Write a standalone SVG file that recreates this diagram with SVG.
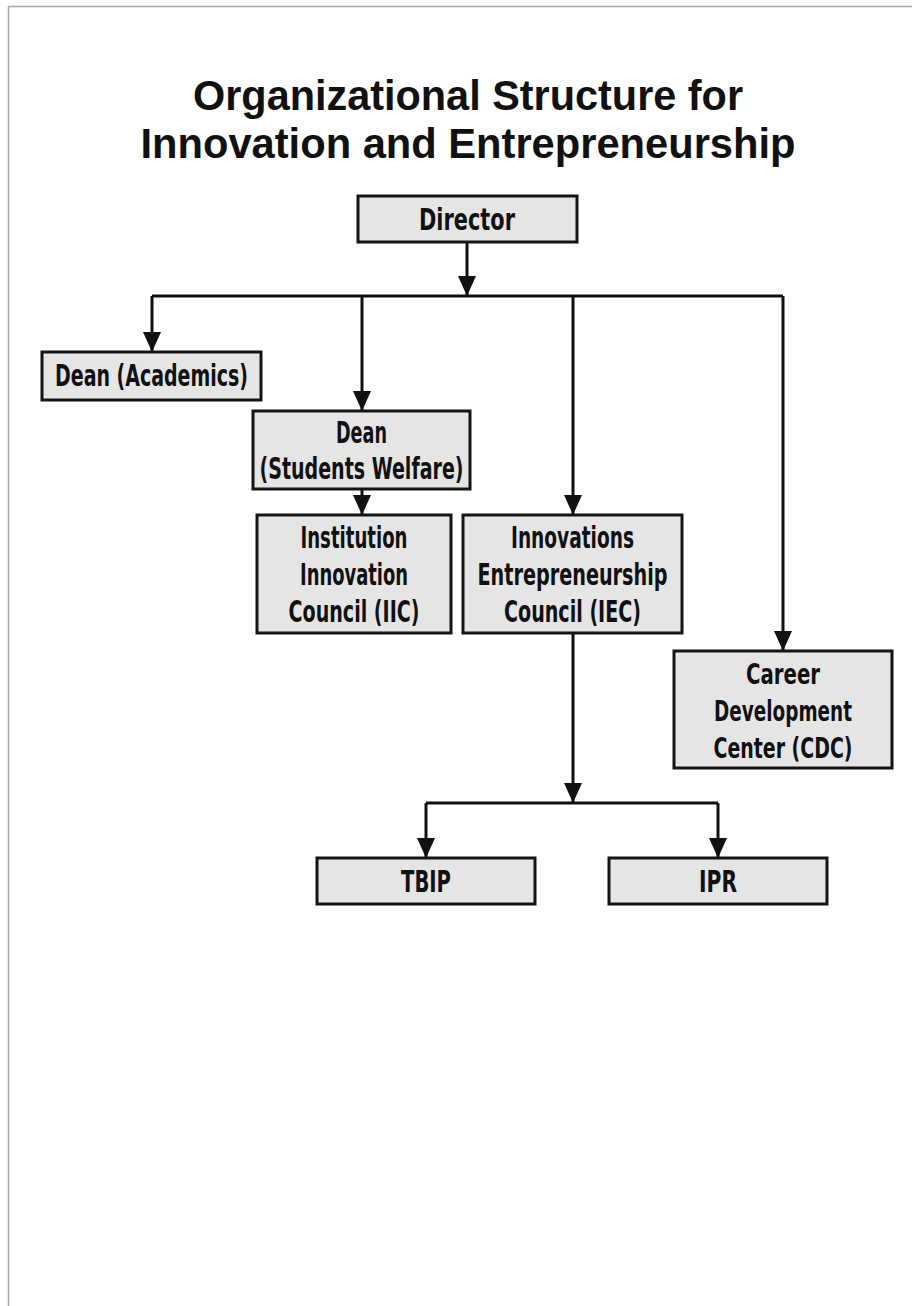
<svg xmlns="http://www.w3.org/2000/svg" width="912" height="1306" viewBox="0 0 912 1306">
<style>
  .box { fill: #e5e5e5; stroke: #141414; stroke-width: 3; }
  .lbl { font-family: "Liberation Sans Narrow", "DejaVu Sans Condensed", "Roboto Condensed", sans-serif; font-weight: bold; font-size: 30px; fill: #111; text-anchor: middle; }
  .sm { font-size: 28px; }
  .title { font-family: "Liberation Sans", Arial, sans-serif; font-weight: bold; font-size: 42px; fill: #111; text-anchor: middle; }
  .conn { stroke: #111; stroke-width: 3; fill: none; }
</style>
<defs>
  <marker id="arr" markerUnits="userSpaceOnUse" markerWidth="20" markerHeight="20" viewBox="0 0 20 20" refX="20" refY="10" orient="auto">
    <path d="M0,1 L20,10 L0,19 Z" fill="#111"/>
  </marker>
</defs>
<rect x="0" y="0" width="912" height="1306" fill="#fff"/>
<path d="M8.5,1306 V6.5 H912" stroke="#a8a8a8" stroke-width="1.5" fill="none"/>

<g id="title">
  <text class="title" x="468" y="110" textLength="550" lengthAdjust="spacingAndGlyphs">Organizational Structure for</text>
  <text class="title" x="468" y="158" textLength="655" lengthAdjust="spacingAndGlyphs">Innovation and Entrepreneurship</text>
</g>

<g id="connectors">
  <path class="conn" d="M467,242 V296" marker-end="url(#arr)"/>
  <path class="conn" d="M152,296 H783"/>
  <path class="conn" d="M152,296 V352" marker-end="url(#arr)"/>
  <path class="conn" d="M362,296 V411" marker-end="url(#arr)"/>
  <path class="conn" d="M573,296 V515" marker-end="url(#arr)"/>
  <path class="conn" d="M783,296 V651" marker-end="url(#arr)"/>
  <path class="conn" d="M362,489 V515" marker-end="url(#arr)"/>
  <path class="conn" d="M573,633 V803" marker-end="url(#arr)"/>
  <path class="conn" d="M426,803 H718"/>
  <path class="conn" d="M426,803 V858" marker-end="url(#arr)"/>
  <path class="conn" d="M718,803 V858" marker-end="url(#arr)"/>
</g>

<g id="director">
  <rect class="box" x="358" y="196" width="219" height="46"/>
  <text class="lbl" x="467" y="230" textLength="96" lengthAdjust="spacingAndGlyphs">Director</text>
</g>

<g id="dean-academics">
  <rect class="box" x="42" y="352" width="219" height="48"/>
  <text class="lbl" x="151.5" y="386" textLength="193" lengthAdjust="spacingAndGlyphs">Dean (Academics)</text>
</g>

<g id="dean-students-welfare">
  <rect class="box" x="253" y="411" width="217" height="78"/>
  <text class="lbl" x="361.5" y="443" textLength="51" lengthAdjust="spacingAndGlyphs">Dean</text>
  <text class="lbl" x="361.5" y="479" textLength="204" lengthAdjust="spacingAndGlyphs">(Students Welfare)</text>
</g>

<g id="iic">
  <rect class="box" x="257" y="515" width="194" height="118"/>
  <text class="lbl" x="354" y="548" textLength="107" lengthAdjust="spacingAndGlyphs">Institution</text>
  <text class="lbl" x="354" y="585" textLength="108" lengthAdjust="spacingAndGlyphs">Innovation</text>
  <text class="lbl" x="354" y="622" textLength="131" lengthAdjust="spacingAndGlyphs">Council (IIC)</text>
</g>

<g id="iec">
  <rect class="box" x="463" y="515" width="219" height="118"/>
  <text class="lbl" x="572.5" y="548" textLength="123" lengthAdjust="spacingAndGlyphs">Innovations</text>
  <text class="lbl" x="572.5" y="585" textLength="190" lengthAdjust="spacingAndGlyphs">Entrepreneurship</text>
  <text class="lbl" x="572.5" y="622" textLength="137" lengthAdjust="spacingAndGlyphs">Council (IEC)</text>
</g>

<g id="cdc">
  <rect class="box" x="674" y="651" width="218" height="117"/>
  <text class="lbl sm" x="783" y="684" textLength="74" lengthAdjust="spacingAndGlyphs">Career</text>
  <text class="lbl sm" x="783" y="721" textLength="138" lengthAdjust="spacingAndGlyphs">Development</text>
  <text class="lbl sm" x="783" y="758" textLength="139" lengthAdjust="spacingAndGlyphs">Center (CDC)</text>
</g>

<g id="tbip">
  <rect class="box" x="317" y="858" width="218" height="46"/>
  <text class="lbl" x="426" y="892" textLength="50" lengthAdjust="spacingAndGlyphs">TBIP</text>
</g>

<g id="ipr">
  <rect class="box" x="609" y="858" width="218" height="46"/>
  <text class="lbl" x="718" y="892" textLength="38" lengthAdjust="spacingAndGlyphs">IPR</text>
</g>
</svg>
